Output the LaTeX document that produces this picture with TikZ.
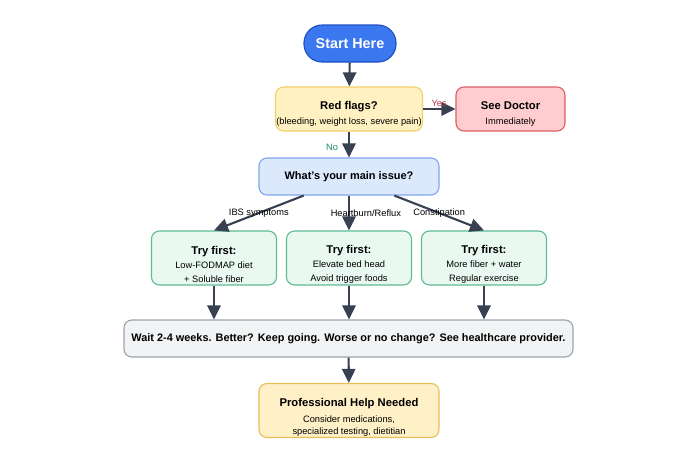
\documentclass[tikz,border=0pt]{standalone}
\usepackage{fontspec}
\setmainfont{Liberation Sans}
\usetikzlibrary{arrows.meta,calc}
\definecolor{startfill}{HTML}{3B78F0}
\definecolor{startdraw}{HTML}{1E4EC4}
\definecolor{flagfill}{HTML}{FFF1C2}
\definecolor{flagdraw}{HTML}{F2CF6B}
\definecolor{docfill}{HTML}{FFCDD0}
\definecolor{docdraw}{HTML}{DB5F66}
\definecolor{issuefill}{HTML}{DCE8FC}
\definecolor{issuedraw}{HTML}{7FA6EE}
\definecolor{tryfill}{HTML}{E9F9F1}
\definecolor{trydraw}{HTML}{5EBB92}
\definecolor{waitfill}{HTML}{F2F3F5}
\definecolor{waitdraw}{HTML}{9CA3AF}
\definecolor{helpfill}{HTML}{FEF0C7}
\definecolor{helpdraw}{HTML}{E9BE5A}
\definecolor{arrowc}{HTML}{374151}
\definecolor{yesc}{HTML}{B8404A}
\definecolor{noc}{HTML}{1F8A70}

\begin{document}
\begin{tikzpicture}[x=0.025cm, y=-0.025cm,
	box/.style={draw, line width=0.8pt, rounded corners=0.2cm, align=center, inner sep=2pt},
	flow/.style={draw=arrowc, line width=1.5pt, -{Triangle[length=10pt,width=9.5pt]}},
	elabel/.style={font=\fontsize{6.6}{7}\selectfont, inner sep=1pt}]
	\useasboundingbox (0,0) rectangle (700,450);

	\node[box, fill=startfill, draw=startdraw, text=white, rounded corners=0.45cm, minimum width=2.3cm, minimum height=0.925cm, font=\bfseries\fontsize{10.2}{11}\selectfont] (start) at (350,43.5) {Start Here};
	\node[box, fill=flagfill, draw=flagdraw, inner xsep=0.5pt, minimum width=3.65cm, minimum height=1.1cm, font=\fontsize{6.6}{10}\selectfont] (flags) at (349,109) {\rule{0pt}{13pt}{\bfseries\fontsize{8}{10}\selectfont Red flags?}\\[0.7pt](bleeding, weight loss, severe pain)};
	\node[box, fill=docfill, draw=docdraw, minimum width=2.725cm, minimum height=1.1cm, font=\fontsize{6.6}{10}\selectfont] (doctor) at (510.5,109) {\rule{0pt}{13pt}{\bfseries\fontsize{8}{10}\selectfont See Doctor}\\[0.7pt]Immediately};
	\node[box, fill=issuefill, draw=issuedraw, minimum width=4.5cm, minimum height=0.925cm, font=\bfseries\fontsize{7.8}{9}\selectfont] (issue) at (349,176.5) {What's your main issue?};

	\foreach \n/\x/\a/\b in {ibs/214/Low-FODMAP diet/+ Soluble fiber, reflux/349/Elevate bed head/Avoid trigger foods, const/484/More fiber + water/Regular exercise}
		\node[box, fill=tryfill, draw=trydraw, inner ysep=0pt, minimum width=3.125cm, minimum height=1.35cm, font=\fontsize{6.6}{10}\selectfont] (\n) at (\x,258) {\rule{0pt}{15pt}{\bfseries\fontsize{8}{10}\selectfont Try first:}\\\a\\\b};

	\node[box, fill=waitfill, draw=waitdraw, minimum width=11.225cm, minimum height=0.925cm, font=\bfseries\fontsize{7.75}{9}\selectfont] (wait) at (348.5,338.5) {Wait 2-4 weeks. Better? Keep going. Worse or no change? See healthcare provider.};
	\node[box, fill=helpfill, draw=helpdraw, inner ysep=0pt, minimum width=4.5cm, minimum height=1.35cm, font=\fontsize{6.6}{8.6}\selectfont] (help) at (349,410.5) {\rule{0pt}{16pt}{\bfseries\fontsize{8}{10}\selectfont Professional Help Needed}\\[2.8pt]Consider medications,\\specialized testing, dietitian};

	\draw[flow] (start) -- (flags);
	\draw[flow] (flags) -- node[elabel, above, text=yesc, pos=0.5] {Yes} (doctor);
	\draw[flow] (flags) -- node[elabel, left, text=noc, xshift=-6pt, pos=0.6] {No} (issue);
	\draw[flow] ($(issue.south west)!0.25!(issue.south east)$) -- node[elabel, pos=0.5] {IBS symptoms} (ibs.north);
	\draw[flow] (issue) -- node[elabel, pos=0.5, xshift=12pt] {Heartburn/Reflux} (reflux);
	\draw[flow] ($(issue.south west)!0.75!(issue.south east)$) -- node[elabel, pos=0.5] {Constipation} (const.north);
	\foreach \n in {ibs, reflux, const}
		\draw[flow] (\n) -- (\n |- wait.north);
	\draw[flow] (wait) -- (help);
\end{tikzpicture}
\end{document}
